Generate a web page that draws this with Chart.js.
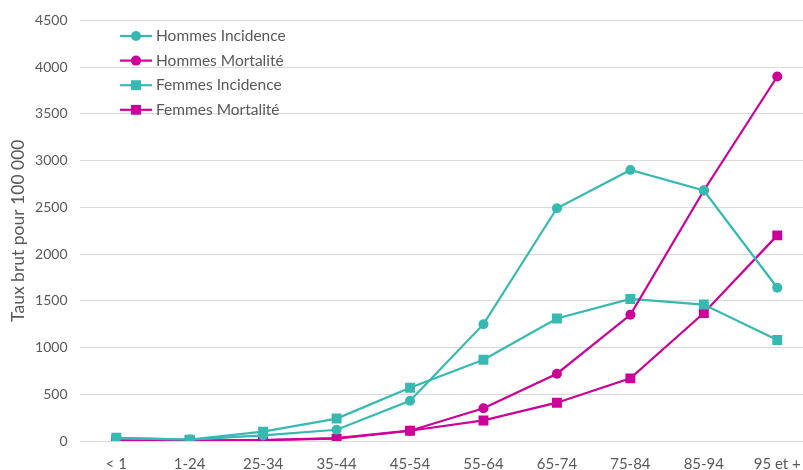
<!DOCTYPE html>
<html>
<head>
<meta charset="utf-8">
<script src="https://cdn.jsdelivr.net/npm/chart.js@4"></script>
<style>
  html, body { margin: 0; padding: 0; background: #fff; overflow: hidden; }
  #wrap { position: relative; width: 821px; height: 470px; }
</style>
</head>
<body>
<div id="wrap"><canvas id="c"></canvas></div>
<script>
// Age groups
const categories = ["< 1", "1-24", "25-34", "35-44", "45-54", "55-64", "65-74", "75-84", "85-94", "95 et +"];

// Crude rates per 100 000
const hommesIncidence = [30, 15, 60, 120, 430, 1250, 2490, 2900, 2680, 1640];
const hommesMortalite = [5, 5, 10, 30, 110, 350, 720, 1350, 2680, 3900];
const femmesIncidence = [35, 15, 100, 240, 570, 870, 1310, 1520, 1460, 1080];
const femmesMortalite = [5, 5, 10, 25, 110, 220, 410, 670, 1370, 2200];

const yTicks = [0, 500, 1000, 1500, 2000, 2500, 3000, 3500, 4000, 4500];

const TEAL = "#36B9B0";
const MAGENTA = "#CC0099";
const FONT = "Lato, 'Open Sans', sans-serif";

function series(label, data, color, style) {
  return {
    label, data,
    borderColor: color, backgroundColor: color,
    borderWidth: 2.2,
    pointStyle: style,
    pointRadius: style === "rect" ? 7 : 5,
    pointHoverRadius: style === "rect" ? 7 : 5,
    pointBorderWidth: 0,
    tension: 0
  };
}

// Legend drawn inside the plot: a short line with its marker, then the label
const insideLegend = {
  id: "insideLegend",
  afterDraw(chart) {
    const ctx = chart.ctx;
    const x0 = 120, x1 = 152, y0 = 36, step = 24.6;
    ctx.save();
    chart.data.datasets.forEach((ds, i) => {
      const y = y0 + i * step;
      ctx.strokeStyle = ds.borderColor;
      ctx.lineWidth = 2.2;
      ctx.beginPath();
      ctx.moveTo(x0, y);
      ctx.lineTo(x1, y);
      ctx.stroke();
      ctx.fillStyle = ds.backgroundColor;
      Chart.helpers.drawPoint(ctx, { pointStyle: ds.pointStyle, radius: ds.pointRadius, rotation: 0, borderWidth: 0 }, (x0 + x1) / 2, y);
      ctx.fillStyle = "#595959";
      ctx.font = "15.5px " + FONT;
      ctx.textBaseline = "middle";
      ctx.textAlign = "left";
      ctx.fillText(ds.label, 156, y);
    });
    ctx.restore();
  }
};

new Chart(document.getElementById("c"), {
  type: "line",
  data: {
    labels: categories,
    datasets: [
      series("Hommes Incidence", hommesIncidence, TEAL, "circle"),
      series("Hommes Mortalité", hommesMortalite, MAGENTA, "circle"),
      series("Femmes Incidence", femmesIncidence, TEAL, "rect"),
      series("Femmes Mortalité", femmesMortalite, MAGENTA, "rect")
    ]
  },
  options: {
    responsive: true,
    maintainAspectRatio: false,
    animation: false,
    layout: { padding: { top: 15, right: 0, left: 0, bottom: 0 } },
    plugins: {
      legend: { display: false },
      tooltip: { enabled: false }
    },
    scales: {
      x: {
        offset: true,
        grid: { display: false, drawTicks: false },
        border: { display: false },
        ticks: { color: "#595959", font: { family: FONT, size: 15 }, padding: 14, maxRotation: 0, autoSkip: false },
        afterFit(scale) { scale.height = 29; }
      },
      y: {
        min: 0, max: 4500,
        afterBuildTicks(scale) { scale.ticks = yTicks.map(v => ({ value: v })); },
        grid: { color: "#D9D9D9", lineWidth: 1, drawTicks: false },
        border: { display: false },
        ticks: { color: "#595959", font: { family: FONT, size: 14 }, padding: 12, callback: v => String(v) },
        title: { display: true, text: "Taux brut pour 100 000", color: "#595959", font: { family: FONT, size: 17.5 }, padding: { top: 8, bottom: 2 } },
        afterFit(scale) { scale.width = 79.5; }
      }
    }
  },
  plugins: [insideLegend]
});
</script>
</body>
</html>
